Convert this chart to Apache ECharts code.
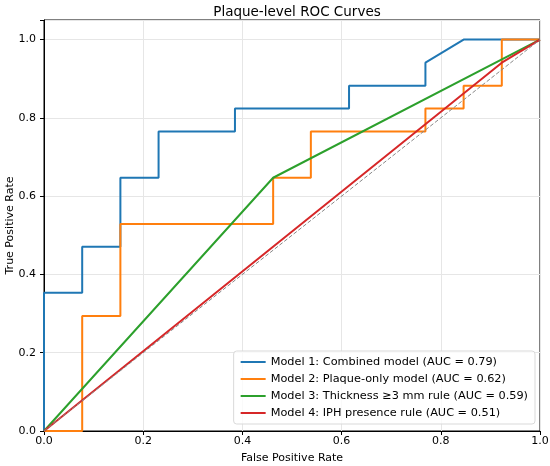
<!DOCTYPE html>
<html>
<head>
<meta charset="utf-8">
<script src="https://cdn.jsdelivr.net/npm/echarts@6/dist/echarts.min.js"></script>
<style>
  html, body { margin: 0; padding: 0; background: #fff; }
  #chart { width: 550px; height: 466px; }
</style>
</head>
<body>
<div id="chart"></div>
<script>
// ROC curves, plaque level

var modelNames = [
    'Model 1: Combined model (AUC = 0.79)',
    'Model 2: Plaque-only model (AUC = 0.62)',
    'Model 3: Thickness \u22653 mm rule (AUC = 0.59)',
    'Model 4: IPH presence rule (AUC = 0.51)'
];

var fpr1 = [0, 0, 0.077, 0.077, 0.154, 0.154, 0.231, 0.231, 0.385, 0.385, 0.615, 0.615, 0.769, 0.769, 0.846, 1];
var tpr1 = [0, 0.353, 0.353, 0.471, 0.471, 0.647, 0.647, 0.765, 0.765, 0.824, 0.824, 0.882, 0.882, 0.941, 1, 1];

var fpr2 = [0, 0.077, 0.077, 0.154, 0.154, 0.462, 0.462, 0.538, 0.538, 0.769, 0.769, 0.846, 0.846, 0.923, 0.923, 1];
var tpr2 = [0, 0, 0.294, 0.294, 0.529, 0.529, 0.647, 0.647, 0.765, 0.765, 0.824, 0.824, 0.882, 0.882, 1, 1];

var fpr3 = [0, 0.462, 1];
var tpr3 = [0, 0.647, 1];

var fpr4 = [0, 0.923, 1];
var tpr4 = [0, 0.941, 1];

var chanceX = [0, 1];
var chanceY = [0, 1];

var xTicks = [0, 0.2, 0.4, 0.6, 0.8, 1.0];
var yTicks = [0, 0.2, 0.4, 0.6, 0.8, 1.0];

var colors = ['#1f77b4', '#ff7f0e', '#2ca02c', '#d62728'];

function pairs(xs, ys) {
    return xs.map(function (x, i) { return [x, ys[i]]; });
}

var font = 'DejaVu Sans';
var myChart = echarts.init(document.getElementById('chart'));

var curves = [[fpr1, tpr1], [fpr2, tpr2], [fpr3, tpr3], [fpr4, tpr4]];
var series = curves.map(function (c, i) {
    return {
        name: modelNames[i],
        type: 'line',
        data: pairs(c[0], c[1]),
        symbol: 'none',
        lineStyle: { color: colors[i], width: 2 },
        itemStyle: { color: colors[i] },
        animation: false
    };
});
series.push({
    name: 'chance',
    type: 'line',
    data: pairs(chanceX, chanceY),
    symbol: 'none',
    lineStyle: { color: '#888', width: 1, type: [4, 2] },
    animation: false
});

function tickFmt(list) {
    return function (v) {
        for (var i = 0; i < list.length; i++) {
            if (Math.abs(list[i] - v) < 1e-6) return v.toFixed(1);
        }
        return '';
    };
}

var option = {
    animation: false,
    title: {
        text: 'Plaque-level ROC Curves',
        left: 292,
        top: 0,
        textAlign: 'center',
        textStyle: { fontFamily: font, fontSize: 13.5, fontWeight: 'normal', color: '#000' }
    },
    grid: {
        left: 44, right: 10, top: 20, bottom: 35,
        outerBoundsMode: 'none',
        containLabel: false,
        show: true, borderColor: '#000', borderWidth: 1
    },
    legend: {
        data: modelNames,
        orient: 'vertical',
        right: 15,
        bottom: 42,
        icon: 'rect',
        itemWidth: 25,
        itemHeight: 2,
        itemGap: 3,
        padding: [4, 7, 4, 7],
        backgroundColor: 'rgba(255,255,255,0.8)',
        borderColor: '#d9d9d9',
        borderWidth: 1,
        borderRadius: 3,
        textStyle: { fontFamily: font, fontSize: 11.3, lineHeight: 14, color: '#000' }
    },
    xAxis: {
        type: 'value',
        min: 0, max: 1, interval: 0.2,
        name: 'False Positive Rate',
        nameLocation: 'middle',
        nameGap: 22,
        nameMoveOverlap: false,
        nameTextStyle: { fontFamily: font, fontSize: 11, color: '#000' },
        axisLine: { show: true, lineStyle: { color: '#000' } },
        axisTick: { show: true, length: 4, lineStyle: { color: '#000' } },
        axisLabel: { fontFamily: font, fontSize: 11, color: '#000', margin: 5, formatter: tickFmt(xTicks) },
        splitLine: { show: true, lineStyle: { color: '#e6e6e6' } }
    },
    yAxis: {
        type: 'value',
        min: 0, max: 1.05, interval: 0.2,
        name: 'True Positive Rate',
        nameLocation: 'middle',
        nameGap: 28,
        nameMoveOverlap: false,
        nameTextStyle: { fontFamily: font, fontSize: 11, color: '#000' },
        axisLine: { show: true, lineStyle: { color: '#000' } },
        axisTick: { show: true, length: 4, lineStyle: { color: '#000' } },
        axisLabel: { fontFamily: font, fontSize: 11, color: '#000', margin: 8, formatter: tickFmt(yTicks) },
        splitLine: { show: true, lineStyle: { color: '#e6e6e6' } }
    },
    series: series
};

myChart.setOption(option);
window.addEventListener('resize', function () {
    myChart.resize();
});
</script>
</body>
</html>
